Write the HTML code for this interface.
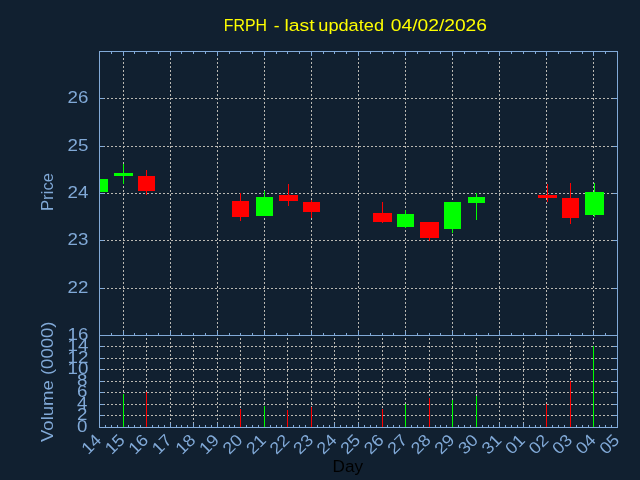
<!DOCTYPE html>
<html><head><meta charset="utf-8"><style>
html,body{margin:0;padding:0;background:#112030;overflow:hidden}
svg{display:block}
text{font-family:"Liberation Sans",sans-serif}
</style></head><body>
<svg width="640" height="480" viewBox="0 0 640 480" shape-rendering="crispEdges">
<rect x="0" y="0" width="640" height="480" fill="#112030"/>
<g stroke="#bab8b2" stroke-width="1" stroke-dasharray="2,2" fill="none">
<line x1="99" y1="98.5" x2="617" y2="98.5"/>
<line x1="99" y1="146.5" x2="617" y2="146.5"/>
<line x1="99" y1="193.5" x2="617" y2="193.5"/>
<line x1="99" y1="240.5" x2="617" y2="240.5"/>
<line x1="99" y1="288.5" x2="617" y2="288.5"/>
<line x1="123.5" y1="336" x2="123.5" y2="51"/>
<line x1="170.5" y1="336" x2="170.5" y2="51"/>
<line x1="217.5" y1="336" x2="217.5" y2="51"/>
<line x1="264.5" y1="336" x2="264.5" y2="51"/>
<line x1="311.5" y1="336" x2="311.5" y2="51"/>
<line x1="358.5" y1="336" x2="358.5" y2="51"/>
<line x1="405.5" y1="336" x2="405.5" y2="51"/>
<line x1="452.5" y1="336" x2="452.5" y2="51"/>
<line x1="499.5" y1="336" x2="499.5" y2="51"/>
<line x1="546.5" y1="336" x2="546.5" y2="51"/>
<line x1="593.5" y1="336" x2="593.5" y2="51"/>
<line x1="99" y1="346.5" x2="617" y2="346.5"/>
<line x1="99" y1="358.5" x2="617" y2="358.5"/>
<line x1="99" y1="369.5" x2="617" y2="369.5"/>
<line x1="99" y1="381.5" x2="617" y2="381.5"/>
<line x1="99" y1="392.5" x2="617" y2="392.5"/>
<line x1="99" y1="404.5" x2="617" y2="404.5"/>
<line x1="99" y1="415.5" x2="617" y2="415.5"/>
<line x1="123.5" y1="428" x2="123.5" y2="335"/>
<line x1="146.5" y1="428" x2="146.5" y2="335"/>
<line x1="170.5" y1="428" x2="170.5" y2="335"/>
<line x1="193.5" y1="428" x2="193.5" y2="335"/>
<line x1="217.5" y1="428" x2="217.5" y2="335"/>
<line x1="240.5" y1="428" x2="240.5" y2="335"/>
<line x1="264.5" y1="428" x2="264.5" y2="335"/>
<line x1="287.5" y1="428" x2="287.5" y2="335"/>
<line x1="311.5" y1="428" x2="311.5" y2="335"/>
<line x1="334.5" y1="428" x2="334.5" y2="335"/>
<line x1="358.5" y1="428" x2="358.5" y2="335"/>
<line x1="382.5" y1="428" x2="382.5" y2="335"/>
<line x1="405.5" y1="428" x2="405.5" y2="335"/>
<line x1="429.5" y1="428" x2="429.5" y2="335"/>
<line x1="452.5" y1="428" x2="452.5" y2="335"/>
<line x1="476.5" y1="428" x2="476.5" y2="335"/>
<line x1="499.5" y1="428" x2="499.5" y2="335"/>
<line x1="523.5" y1="428" x2="523.5" y2="335"/>
<line x1="546.5" y1="428" x2="546.5" y2="335"/>
<line x1="570.5" y1="428" x2="570.5" y2="335"/>
<line x1="593.5" y1="428" x2="593.5" y2="335"/>
</g>
<g stroke="#82aad8" stroke-width="1" fill="none">
<line x1="99" y1="98.5" x2="104" y2="98.5"/>
<line x1="613" y1="98.5" x2="617" y2="98.5"/>
<line x1="99" y1="146.5" x2="104" y2="146.5"/>
<line x1="613" y1="146.5" x2="617" y2="146.5"/>
<line x1="99" y1="193.5" x2="104" y2="193.5"/>
<line x1="613" y1="193.5" x2="617" y2="193.5"/>
<line x1="99" y1="240.5" x2="104" y2="240.5"/>
<line x1="613" y1="240.5" x2="617" y2="240.5"/>
<line x1="99" y1="288.5" x2="104" y2="288.5"/>
<line x1="613" y1="288.5" x2="617" y2="288.5"/>
<line x1="99" y1="346.5" x2="104" y2="346.5"/>
<line x1="613" y1="346.5" x2="617" y2="346.5"/>
<line x1="99" y1="358.5" x2="104" y2="358.5"/>
<line x1="613" y1="358.5" x2="617" y2="358.5"/>
<line x1="99" y1="369.5" x2="104" y2="369.5"/>
<line x1="613" y1="369.5" x2="617" y2="369.5"/>
<line x1="99" y1="381.5" x2="104" y2="381.5"/>
<line x1="613" y1="381.5" x2="617" y2="381.5"/>
<line x1="99" y1="392.5" x2="104" y2="392.5"/>
<line x1="613" y1="392.5" x2="617" y2="392.5"/>
<line x1="99" y1="404.5" x2="104" y2="404.5"/>
<line x1="613" y1="404.5" x2="617" y2="404.5"/>
<line x1="99" y1="415.5" x2="104" y2="415.5"/>
<line x1="613" y1="415.5" x2="617" y2="415.5"/>
<line x1="111.5" y1="52" x2="111.5" y2="54"/>
<line x1="111.5" y1="335" x2="111.5" y2="333"/>
<line x1="123.5" y1="52" x2="123.5" y2="56"/>
<line x1="123.5" y1="335" x2="123.5" y2="331"/>
<line x1="134.5" y1="52" x2="134.5" y2="54"/>
<line x1="134.5" y1="335" x2="134.5" y2="333"/>
<line x1="146.5" y1="52" x2="146.5" y2="54"/>
<line x1="146.5" y1="335" x2="146.5" y2="333"/>
<line x1="158.5" y1="52" x2="158.5" y2="54"/>
<line x1="158.5" y1="335" x2="158.5" y2="333"/>
<line x1="170.5" y1="52" x2="170.5" y2="56"/>
<line x1="170.5" y1="335" x2="170.5" y2="331"/>
<line x1="181.5" y1="52" x2="181.5" y2="54"/>
<line x1="181.5" y1="335" x2="181.5" y2="333"/>
<line x1="193.5" y1="52" x2="193.5" y2="54"/>
<line x1="193.5" y1="335" x2="193.5" y2="333"/>
<line x1="205.5" y1="52" x2="205.5" y2="54"/>
<line x1="205.5" y1="335" x2="205.5" y2="333"/>
<line x1="217.5" y1="52" x2="217.5" y2="56"/>
<line x1="217.5" y1="335" x2="217.5" y2="331"/>
<line x1="229.5" y1="52" x2="229.5" y2="54"/>
<line x1="229.5" y1="335" x2="229.5" y2="333"/>
<line x1="240.5" y1="52" x2="240.5" y2="54"/>
<line x1="240.5" y1="335" x2="240.5" y2="333"/>
<line x1="252.5" y1="52" x2="252.5" y2="54"/>
<line x1="252.5" y1="335" x2="252.5" y2="333"/>
<line x1="264.5" y1="52" x2="264.5" y2="56"/>
<line x1="264.5" y1="335" x2="264.5" y2="331"/>
<line x1="276.5" y1="52" x2="276.5" y2="54"/>
<line x1="276.5" y1="335" x2="276.5" y2="333"/>
<line x1="287.5" y1="52" x2="287.5" y2="54"/>
<line x1="287.5" y1="335" x2="287.5" y2="333"/>
<line x1="299.5" y1="52" x2="299.5" y2="54"/>
<line x1="299.5" y1="335" x2="299.5" y2="333"/>
<line x1="311.5" y1="52" x2="311.5" y2="56"/>
<line x1="311.5" y1="335" x2="311.5" y2="331"/>
<line x1="323.5" y1="52" x2="323.5" y2="54"/>
<line x1="323.5" y1="335" x2="323.5" y2="333"/>
<line x1="334.5" y1="52" x2="334.5" y2="54"/>
<line x1="334.5" y1="335" x2="334.5" y2="333"/>
<line x1="346.5" y1="52" x2="346.5" y2="54"/>
<line x1="346.5" y1="335" x2="346.5" y2="333"/>
<line x1="358.5" y1="52" x2="358.5" y2="56"/>
<line x1="358.5" y1="335" x2="358.5" y2="331"/>
<line x1="370.5" y1="52" x2="370.5" y2="54"/>
<line x1="370.5" y1="335" x2="370.5" y2="333"/>
<line x1="382.5" y1="52" x2="382.5" y2="54"/>
<line x1="382.5" y1="335" x2="382.5" y2="333"/>
<line x1="393.5" y1="52" x2="393.5" y2="54"/>
<line x1="393.5" y1="335" x2="393.5" y2="333"/>
<line x1="405.5" y1="52" x2="405.5" y2="56"/>
<line x1="405.5" y1="335" x2="405.5" y2="331"/>
<line x1="417.5" y1="52" x2="417.5" y2="54"/>
<line x1="417.5" y1="335" x2="417.5" y2="333"/>
<line x1="429.5" y1="52" x2="429.5" y2="54"/>
<line x1="429.5" y1="335" x2="429.5" y2="333"/>
<line x1="440.5" y1="52" x2="440.5" y2="54"/>
<line x1="440.5" y1="335" x2="440.5" y2="333"/>
<line x1="452.5" y1="52" x2="452.5" y2="56"/>
<line x1="452.5" y1="335" x2="452.5" y2="331"/>
<line x1="464.5" y1="52" x2="464.5" y2="54"/>
<line x1="464.5" y1="335" x2="464.5" y2="333"/>
<line x1="476.5" y1="52" x2="476.5" y2="54"/>
<line x1="476.5" y1="335" x2="476.5" y2="333"/>
<line x1="488.5" y1="52" x2="488.5" y2="54"/>
<line x1="488.5" y1="335" x2="488.5" y2="333"/>
<line x1="499.5" y1="52" x2="499.5" y2="56"/>
<line x1="499.5" y1="335" x2="499.5" y2="331"/>
<line x1="511.5" y1="52" x2="511.5" y2="54"/>
<line x1="511.5" y1="335" x2="511.5" y2="333"/>
<line x1="523.5" y1="52" x2="523.5" y2="54"/>
<line x1="523.5" y1="335" x2="523.5" y2="333"/>
<line x1="535.5" y1="52" x2="535.5" y2="54"/>
<line x1="535.5" y1="335" x2="535.5" y2="333"/>
<line x1="546.5" y1="52" x2="546.5" y2="56"/>
<line x1="546.5" y1="335" x2="546.5" y2="331"/>
<line x1="558.5" y1="52" x2="558.5" y2="54"/>
<line x1="558.5" y1="335" x2="558.5" y2="333"/>
<line x1="570.5" y1="52" x2="570.5" y2="54"/>
<line x1="570.5" y1="335" x2="570.5" y2="333"/>
<line x1="582.5" y1="52" x2="582.5" y2="54"/>
<line x1="582.5" y1="335" x2="582.5" y2="333"/>
<line x1="593.5" y1="52" x2="593.5" y2="56"/>
<line x1="593.5" y1="335" x2="593.5" y2="331"/>
<line x1="605.5" y1="52" x2="605.5" y2="54"/>
<line x1="605.5" y1="335" x2="605.5" y2="333"/>
<line x1="105.5" y1="427" x2="105.5" y2="425"/>
<line x1="111.5" y1="427" x2="111.5" y2="425"/>
<line x1="117.5" y1="427" x2="117.5" y2="425"/>
<line x1="123.5" y1="427" x2="123.5" y2="423"/>
<line x1="128.5" y1="427" x2="128.5" y2="425"/>
<line x1="134.5" y1="427" x2="134.5" y2="425"/>
<line x1="140.5" y1="427" x2="140.5" y2="425"/>
<line x1="146.5" y1="427" x2="146.5" y2="423"/>
<line x1="152.5" y1="427" x2="152.5" y2="425"/>
<line x1="158.5" y1="427" x2="158.5" y2="425"/>
<line x1="164.5" y1="427" x2="164.5" y2="425"/>
<line x1="170.5" y1="427" x2="170.5" y2="423"/>
<line x1="176.5" y1="427" x2="176.5" y2="425"/>
<line x1="181.5" y1="427" x2="181.5" y2="425"/>
<line x1="187.5" y1="427" x2="187.5" y2="425"/>
<line x1="193.5" y1="427" x2="193.5" y2="423"/>
<line x1="199.5" y1="427" x2="199.5" y2="425"/>
<line x1="205.5" y1="427" x2="205.5" y2="425"/>
<line x1="211.5" y1="427" x2="211.5" y2="425"/>
<line x1="217.5" y1="427" x2="217.5" y2="423"/>
<line x1="223.5" y1="427" x2="223.5" y2="425"/>
<line x1="229.5" y1="427" x2="229.5" y2="425"/>
<line x1="234.5" y1="427" x2="234.5" y2="425"/>
<line x1="240.5" y1="427" x2="240.5" y2="423"/>
<line x1="246.5" y1="427" x2="246.5" y2="425"/>
<line x1="252.5" y1="427" x2="252.5" y2="425"/>
<line x1="258.5" y1="427" x2="258.5" y2="425"/>
<line x1="264.5" y1="427" x2="264.5" y2="423"/>
<line x1="270.5" y1="427" x2="270.5" y2="425"/>
<line x1="276.5" y1="427" x2="276.5" y2="425"/>
<line x1="281.5" y1="427" x2="281.5" y2="425"/>
<line x1="287.5" y1="427" x2="287.5" y2="423"/>
<line x1="293.5" y1="427" x2="293.5" y2="425"/>
<line x1="299.5" y1="427" x2="299.5" y2="425"/>
<line x1="305.5" y1="427" x2="305.5" y2="425"/>
<line x1="311.5" y1="427" x2="311.5" y2="423"/>
<line x1="317.5" y1="427" x2="317.5" y2="425"/>
<line x1="323.5" y1="427" x2="323.5" y2="425"/>
<line x1="329.5" y1="427" x2="329.5" y2="425"/>
<line x1="334.5" y1="427" x2="334.5" y2="423"/>
<line x1="340.5" y1="427" x2="340.5" y2="425"/>
<line x1="346.5" y1="427" x2="346.5" y2="425"/>
<line x1="352.5" y1="427" x2="352.5" y2="425"/>
<line x1="358.5" y1="427" x2="358.5" y2="423"/>
<line x1="364.5" y1="427" x2="364.5" y2="425"/>
<line x1="370.5" y1="427" x2="370.5" y2="425"/>
<line x1="376.5" y1="427" x2="376.5" y2="425"/>
<line x1="382.5" y1="427" x2="382.5" y2="423"/>
<line x1="387.5" y1="427" x2="387.5" y2="425"/>
<line x1="393.5" y1="427" x2="393.5" y2="425"/>
<line x1="399.5" y1="427" x2="399.5" y2="425"/>
<line x1="405.5" y1="427" x2="405.5" y2="423"/>
<line x1="411.5" y1="427" x2="411.5" y2="425"/>
<line x1="417.5" y1="427" x2="417.5" y2="425"/>
<line x1="423.5" y1="427" x2="423.5" y2="425"/>
<line x1="429.5" y1="427" x2="429.5" y2="423"/>
<line x1="435.5" y1="427" x2="435.5" y2="425"/>
<line x1="440.5" y1="427" x2="440.5" y2="425"/>
<line x1="446.5" y1="427" x2="446.5" y2="425"/>
<line x1="452.5" y1="427" x2="452.5" y2="423"/>
<line x1="458.5" y1="427" x2="458.5" y2="425"/>
<line x1="464.5" y1="427" x2="464.5" y2="425"/>
<line x1="470.5" y1="427" x2="470.5" y2="425"/>
<line x1="476.5" y1="427" x2="476.5" y2="423"/>
<line x1="482.5" y1="427" x2="482.5" y2="425"/>
<line x1="488.5" y1="427" x2="488.5" y2="425"/>
<line x1="493.5" y1="427" x2="493.5" y2="425"/>
<line x1="499.5" y1="427" x2="499.5" y2="423"/>
<line x1="505.5" y1="427" x2="505.5" y2="425"/>
<line x1="511.5" y1="427" x2="511.5" y2="425"/>
<line x1="517.5" y1="427" x2="517.5" y2="425"/>
<line x1="523.5" y1="427" x2="523.5" y2="423"/>
<line x1="529.5" y1="427" x2="529.5" y2="425"/>
<line x1="535.5" y1="427" x2="535.5" y2="425"/>
<line x1="540.5" y1="427" x2="540.5" y2="425"/>
<line x1="546.5" y1="427" x2="546.5" y2="423"/>
<line x1="552.5" y1="427" x2="552.5" y2="425"/>
<line x1="558.5" y1="427" x2="558.5" y2="425"/>
<line x1="564.5" y1="427" x2="564.5" y2="425"/>
<line x1="570.5" y1="427" x2="570.5" y2="423"/>
<line x1="576.5" y1="427" x2="576.5" y2="425"/>
<line x1="582.5" y1="427" x2="582.5" y2="425"/>
<line x1="588.5" y1="427" x2="588.5" y2="425"/>
<line x1="593.5" y1="427" x2="593.5" y2="423"/>
<line x1="599.5" y1="427" x2="599.5" y2="425"/>
<line x1="605.5" y1="427" x2="605.5" y2="425"/>
<line x1="611.5" y1="427" x2="611.5" y2="425"/>
</g>
<rect x="100" y="179" width="8" height="13" fill="#00ff00"/>
<rect x="123" y="164" width="1" height="20" fill="#00ff00"/>
<rect x="114" y="173" width="19" height="3" fill="#00ff00"/>
<rect x="146" y="170" width="1" height="25" fill="#ff0000"/>
<rect x="138" y="176" width="17" height="15" fill="#ff0000"/>
<rect x="240" y="193" width="1" height="28" fill="#ff0000"/>
<rect x="232" y="201" width="17" height="16" fill="#ff0000"/>
<rect x="264" y="191" width="1" height="25" fill="#00ff00"/>
<rect x="256" y="197" width="17" height="19" fill="#00ff00"/>
<rect x="288" y="184" width="1" height="22" fill="#ff0000"/>
<rect x="279" y="195" width="19" height="6" fill="#ff0000"/>
<rect x="311" y="200" width="1" height="18" fill="#ff0000"/>
<rect x="303" y="202" width="17" height="10" fill="#ff0000"/>
<rect x="382" y="202" width="1" height="21" fill="#ff0000"/>
<rect x="373" y="213" width="19" height="9" fill="#ff0000"/>
<rect x="405" y="210" width="1" height="18" fill="#00ff00"/>
<rect x="397" y="214" width="17" height="13" fill="#00ff00"/>
<rect x="429" y="222" width="1" height="19" fill="#ff0000"/>
<rect x="420" y="222" width="19" height="16" fill="#ff0000"/>
<rect x="452" y="202" width="1" height="31" fill="#00ff00"/>
<rect x="444" y="202" width="17" height="27" fill="#00ff00"/>
<rect x="476" y="193" width="1" height="27" fill="#00ff00"/>
<rect x="468" y="197" width="17" height="6" fill="#00ff00"/>
<rect x="547" y="184" width="1" height="18" fill="#ff0000"/>
<rect x="538" y="195" width="19" height="3" fill="#ff0000"/>
<rect x="570" y="183" width="1" height="41" fill="#ff0000"/>
<rect x="562" y="198" width="17" height="20" fill="#ff0000"/>
<rect x="594" y="183" width="1" height="34" fill="#00ff00"/>
<rect x="585" y="192" width="19" height="23" fill="#00ff00"/>
<rect x="123" y="394" width="1" height="33" fill="#00ff00"/>
<rect x="146" y="392" width="1" height="35" fill="#ff0000"/>
<rect x="240" y="409" width="1" height="18" fill="#ff0000"/>
<rect x="264" y="406" width="1" height="21" fill="#00ff00"/>
<rect x="287" y="410" width="1" height="17" fill="#ff0000"/>
<rect x="311" y="407" width="1" height="20" fill="#ff0000"/>
<rect x="382" y="409" width="1" height="18" fill="#ff0000"/>
<rect x="405" y="404" width="1" height="23" fill="#00ff00"/>
<rect x="429" y="398" width="1" height="29" fill="#ff0000"/>
<rect x="452" y="400" width="1" height="27" fill="#00ff00"/>
<rect x="476" y="396" width="1" height="31" fill="#00ff00"/>
<rect x="546" y="404" width="1" height="23" fill="#ff0000"/>
<rect x="570" y="381" width="1" height="46" fill="#ff0000"/>
<rect x="593" y="346" width="1" height="81" fill="#00ff00"/>
<g stroke="#82aad8" stroke-width="1" fill="none">
<rect x="99.5" y="51.5" width="518" height="376"/>
<line x1="99" y1="335.5" x2="617" y2="335.5"/>
</g>
<g opacity="0.999">
<text x="223.8" y="31" fill="#ffff00" font-size="16.8" textLength="43.2" lengthAdjust="spacingAndGlyphs">FRPH</text>
<text x="273.8" y="31" fill="#ffff00" font-size="16.8" textLength="5.800000000000023" lengthAdjust="spacingAndGlyphs">-</text>
<text x="284.40000000000003" y="31" fill="#ffff00" font-size="16.8" textLength="30.2" lengthAdjust="spacingAndGlyphs">last</text>
<text x="318.3" y="31" fill="#ffff00" font-size="16.8" textLength="65.7" lengthAdjust="spacingAndGlyphs">updated</text>
<text x="390.8" y="31" fill="#ffff00" font-size="16.8" textLength="96.2" lengthAdjust="spacingAndGlyphs">04/02/2026</text>
<text x="88.3" y="102.5" text-anchor="end" fill="#82aad8" font-size="16.8" textLength="20.8" lengthAdjust="spacingAndGlyphs">26</text>
<text x="88.3" y="150.5" text-anchor="end" fill="#82aad8" font-size="16.8" textLength="20.8" lengthAdjust="spacingAndGlyphs">25</text>
<text x="88.3" y="197.5" text-anchor="end" fill="#82aad8" font-size="16.8" textLength="20.8" lengthAdjust="spacingAndGlyphs">24</text>
<text x="88.3" y="244.5" text-anchor="end" fill="#82aad8" font-size="16.8" textLength="20.8" lengthAdjust="spacingAndGlyphs">23</text>
<text x="88.3" y="292.5" text-anchor="end" fill="#82aad8" font-size="16.8" textLength="20.8" lengthAdjust="spacingAndGlyphs">22</text>
<text x="88.3" y="339.5" text-anchor="end" fill="#82aad8" font-size="16.8" textLength="20.8" lengthAdjust="spacingAndGlyphs">16</text>
<text x="88.3" y="350.5" text-anchor="end" fill="#82aad8" font-size="16.8" textLength="20.8" lengthAdjust="spacingAndGlyphs">14</text>
<text x="88.3" y="362.5" text-anchor="end" fill="#82aad8" font-size="16.8" textLength="20.8" lengthAdjust="spacingAndGlyphs">12</text>
<text x="88.3" y="373.5" text-anchor="end" fill="#82aad8" font-size="16.8" textLength="20.8" lengthAdjust="spacingAndGlyphs">10</text>
<text x="87.4" y="385.5" text-anchor="end" fill="#82aad8" font-size="16.8" textLength="10.4" lengthAdjust="spacingAndGlyphs">8</text>
<text x="87.4" y="396.5" text-anchor="end" fill="#82aad8" font-size="16.8" textLength="10.4" lengthAdjust="spacingAndGlyphs">6</text>
<text x="87.4" y="408.5" text-anchor="end" fill="#82aad8" font-size="16.8" textLength="10.4" lengthAdjust="spacingAndGlyphs">4</text>
<text x="87.4" y="419.5" text-anchor="end" fill="#82aad8" font-size="16.8" textLength="10.4" lengthAdjust="spacingAndGlyphs">2</text>
<text x="87.4" y="431.5" text-anchor="end" fill="#82aad8" font-size="16.8" textLength="10.4" lengthAdjust="spacingAndGlyphs">0</text>
<text transform="translate(53,211) rotate(-90)" fill="#82aad8" font-size="16.8" textLength="38" lengthAdjust="spacingAndGlyphs">Price</text>
<text transform="translate(53,442) rotate(-90)" fill="#82aad8" font-size="16.8" textLength="120.5" lengthAdjust="spacingAndGlyphs">Volume (0000)</text>
<text transform="translate(102.30,441.2) rotate(-45)" text-anchor="end" fill="#82aad8" font-size="16.8" textLength="20" lengthAdjust="spacingAndGlyphs">14</text>
<text transform="translate(125.85,441.2) rotate(-45)" text-anchor="end" fill="#82aad8" font-size="16.8" textLength="20" lengthAdjust="spacingAndGlyphs">15</text>
<text transform="translate(149.39,441.2) rotate(-45)" text-anchor="end" fill="#82aad8" font-size="16.8" textLength="20" lengthAdjust="spacingAndGlyphs">16</text>
<text transform="translate(172.94,441.2) rotate(-45)" text-anchor="end" fill="#82aad8" font-size="16.8" textLength="20" lengthAdjust="spacingAndGlyphs">17</text>
<text transform="translate(196.48,441.2) rotate(-45)" text-anchor="end" fill="#82aad8" font-size="16.8" textLength="20" lengthAdjust="spacingAndGlyphs">18</text>
<text transform="translate(220.03,441.2) rotate(-45)" text-anchor="end" fill="#82aad8" font-size="16.8" textLength="20" lengthAdjust="spacingAndGlyphs">19</text>
<text transform="translate(243.57,441.2) rotate(-45)" text-anchor="end" fill="#82aad8" font-size="16.8" textLength="20" lengthAdjust="spacingAndGlyphs">20</text>
<text transform="translate(267.12,441.2) rotate(-45)" text-anchor="end" fill="#82aad8" font-size="16.8" textLength="20" lengthAdjust="spacingAndGlyphs">21</text>
<text transform="translate(290.66,441.2) rotate(-45)" text-anchor="end" fill="#82aad8" font-size="16.8" textLength="20" lengthAdjust="spacingAndGlyphs">22</text>
<text transform="translate(314.21,441.2) rotate(-45)" text-anchor="end" fill="#82aad8" font-size="16.8" textLength="20" lengthAdjust="spacingAndGlyphs">23</text>
<text transform="translate(337.75,441.2) rotate(-45)" text-anchor="end" fill="#82aad8" font-size="16.8" textLength="20" lengthAdjust="spacingAndGlyphs">24</text>
<text transform="translate(361.30,441.2) rotate(-45)" text-anchor="end" fill="#82aad8" font-size="16.8" textLength="20" lengthAdjust="spacingAndGlyphs">25</text>
<text transform="translate(384.85,441.2) rotate(-45)" text-anchor="end" fill="#82aad8" font-size="16.8" textLength="20" lengthAdjust="spacingAndGlyphs">26</text>
<text transform="translate(408.39,441.2) rotate(-45)" text-anchor="end" fill="#82aad8" font-size="16.8" textLength="20" lengthAdjust="spacingAndGlyphs">27</text>
<text transform="translate(431.94,441.2) rotate(-45)" text-anchor="end" fill="#82aad8" font-size="16.8" textLength="20" lengthAdjust="spacingAndGlyphs">28</text>
<text transform="translate(455.48,441.2) rotate(-45)" text-anchor="end" fill="#82aad8" font-size="16.8" textLength="20" lengthAdjust="spacingAndGlyphs">29</text>
<text transform="translate(479.03,441.2) rotate(-45)" text-anchor="end" fill="#82aad8" font-size="16.8" textLength="20" lengthAdjust="spacingAndGlyphs">30</text>
<text transform="translate(502.57,441.2) rotate(-45)" text-anchor="end" fill="#82aad8" font-size="16.8" textLength="20" lengthAdjust="spacingAndGlyphs">31</text>
<text transform="translate(526.12,441.2) rotate(-45)" text-anchor="end" fill="#82aad8" font-size="16.8" textLength="20" lengthAdjust="spacingAndGlyphs">01</text>
<text transform="translate(549.66,441.2) rotate(-45)" text-anchor="end" fill="#82aad8" font-size="16.8" textLength="20" lengthAdjust="spacingAndGlyphs">02</text>
<text transform="translate(573.21,441.2) rotate(-45)" text-anchor="end" fill="#82aad8" font-size="16.8" textLength="20" lengthAdjust="spacingAndGlyphs">03</text>
<text transform="translate(596.75,441.2) rotate(-45)" text-anchor="end" fill="#82aad8" font-size="16.8" textLength="20" lengthAdjust="spacingAndGlyphs">04</text>
<text transform="translate(620.30,441.2) rotate(-45)" text-anchor="end" fill="#82aad8" font-size="16.8" textLength="20" lengthAdjust="spacingAndGlyphs">05</text>
<text x="332.5" y="471.5" fill="#000000" font-size="16.8" textLength="30.5" lengthAdjust="spacingAndGlyphs">Day</text>
</g>
</svg>
</body></html>
